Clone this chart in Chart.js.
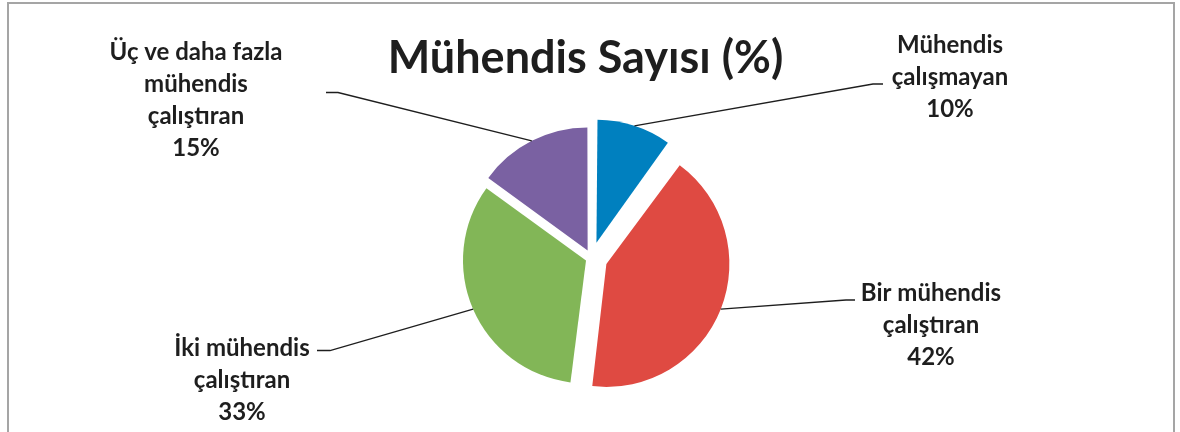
<!DOCTYPE html>
<html>
<head>
<meta charset="utf-8">
<script src="https://cdn.jsdelivr.net/npm/chart.js@4/dist/chart.umd.min.js"></script>
<style>
  body { margin: 0; background: #fff; }
  .wrap { position: relative; width: 1180px; height: 432px; overflow: hidden; }
  .frame { position: absolute; left: 7px; top: 2px; width: 1164px; height: 480px; border: 2px solid #a5a5a5; }
  canvas { position: absolute; left: 0; top: 0; }
</style>
</head>
<body>
<div class="wrap">
  <div class="frame"></div>
  <canvas id="pieChart" width="1180" height="432"></canvas>
</div>
<script>
// chart data
const chartTitle = 'Mühendis Sayısı (%)';
const categories = [
    ['Mühendis', 'çalışmayan'],
    ['Bir mühendis', 'çalıştıran'],
    ['İki mühendis', 'çalıştıran'],
    ['Üç ve daha fazla', 'mühendis', 'çalıştıran']
];
const shares = [10, 42, 33, 15];
const sliceColors = ['#0080bf', '#df4a42', '#82b657', '#7a61a2'];

// how far each slice is pulled out (px)
const explode = [16, 16, 6, 8.5];
const pieRadius = 123;

// label text placement: centre x, first baseline, leader elbow and end
const labelPlaces = [
    { x: 950, y: 53, elbow: [873, 84], end: [883, 84] },
    { x: 931, y: 301, elbow: [846, 300], end: [855, 300] },
    { x: 242, y: 356, elbow: [330, 350.5], end: [317, 350.5] },
    { x: 196, y: 60, elbow: [338, 92.5], end: [326, 92.5] }
];

const textColor = '#1e1e1e';
const fontFamily = 'Lato, "Open Sans", sans-serif';

// Chart.js pushes an exploded arc out by offset/4 and also grows its radius a bit,
// so pull the radius back to keep every slice the same size
const evenRadius = {
    id: 'evenRadius',
    afterDatasetsUpdate(chart) {
        const meta = chart.getDatasetMeta(0);
        meta.data.forEach(arc => {
            const shift = (arc.options.offset || 0) / 4;
            const fix = 1 - Math.sin(Math.min(Math.PI, arc.circumference));
            arc.outerRadius = pieRadius - shift * fix;
        });
    }
};

// title, leader lines and slice labels
const sliceLabels = {
    id: 'sliceLabels',
    afterDatasetsDraw(chart) {
        const ctx = chart.ctx;
        const meta = chart.getDatasetMeta(0);
        ctx.save();

        ctx.fillStyle = textColor;
        ctx.textAlign = 'center';
        ctx.textBaseline = 'alphabetic';
        ctx.font = 'bold 45px ' + fontFamily;
        ctx.fillText(chartTitle, 585.5, 73);

        ctx.font = 'bold 24px ' + fontFamily;
        meta.data.forEach((arc, i) => {
            const place = labelPlaces[i];
            const mid = (arc.startAngle + arc.endAngle) / 2;
            const shift = (arc.options.offset || 0) / 4;
            const r = shift + pieRadius;
            const sx = arc.x + Math.cos(mid) * r;
            const sy = arc.y + Math.sin(mid) * r;

            ctx.strokeStyle = '#1e1e1e';
            ctx.lineWidth = 1.3;
            ctx.beginPath();
            ctx.moveTo(sx, sy);
            ctx.lineTo(place.elbow[0], place.elbow[1]);
            ctx.lineTo(place.end[0], place.end[1]);
            ctx.stroke();

            const lines = categories[i].concat([shares[i] + '%']);
            lines.forEach((t, k) => {
                ctx.fillText(t, place.x, place.y + k * 32);
            });
        });
        ctx.restore();
    }
};

const pieCtx = document.getElementById('pieChart').getContext('2d');
new Chart(pieCtx, {
    type: 'pie',
    data: {
        labels: categories.map(c => c.join(' ')),
        datasets: [{
            data: shares,
            backgroundColor: sliceColors,
            borderWidth: 0,
            offset: explode.map(d => d * 4)
        }]
    },
    options: {
        responsive: false,
        animation: false,
        devicePixelRatio: 1,
        radius: pieRadius,
        layout: { padding: { left: 3, right: 0, top: 84, bottom: 0 } },
        plugins: {
            legend: { display: false },
            tooltip: { enabled: false }
        }
    },
    plugins: [evenRadius, sliceLabels]
});
</script>
</body>
</html>
